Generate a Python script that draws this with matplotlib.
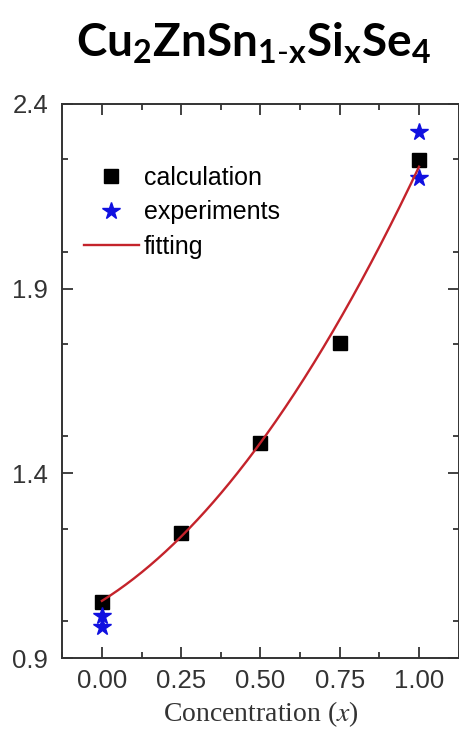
import numpy as np
import matplotlib
matplotlib.use('Agg')
import matplotlib.pyplot as plt
from matplotlib.ticker import MultipleLocator, FormatStrFormatter

plt.rcParams.update({
    'font.family': ['Liberation Sans', 'DejaVu Sans'],
    'mathtext.fontset': 'custom',
    'mathtext.bf': 'Lato:bold',
    'mathtext.rm': 'Lato',
    'mathtext.it': 'Lato:italic',
})

# calculated band gaps vs Si concentration
calc_x = [0.00, 0.25, 0.50, 0.75, 1.00]
calc_y = [1.052, 1.239, 1.483, 1.754, 2.248]

# experimental values (two per end member)
exp_x = [0.00, 0.00, 1.00, 1.00]
exp_y = [1.015, 0.985, 2.324, 2.199]

# quadratic fitting curve coefficients (highest power first)
fit_coef = [0.638, 0.537, 1.055]

xticks = [0.00, 0.25, 0.50, 0.75, 1.00]
yticks = [0.9, 1.4, 1.9, 2.4]

spine_col = '#333333'

fig = plt.figure(figsize=(4.59, 7.42), dpi=100)
ax = fig.add_axes([0.135, 0.113, 0.865, 0.747])

xs = np.linspace(0, 1, 200)
ax.plot(calc_x, calc_y, 's', color='black', markersize=10, label='calculation', zorder=3)
ax.plot(exp_x, exp_y, '*', color='#1010e0', markersize=13, label='experiments', zorder=4)
ax.plot(xs, np.polyval(fit_coef, xs), '-', color='#c4232b', linewidth=1.7, label='fitting', zorder=5)

ax.set_xlim(-0.126, 1.126)
ax.set_ylim(0.9, 2.4)
ax.set_xticks(xticks)
ax.set_yticks(yticks)
ax.xaxis.set_major_formatter(FormatStrFormatter('%.2f'))
ax.yaxis.set_major_formatter(FormatStrFormatter('%.1f'))
ax.xaxis.set_minor_locator(MultipleLocator(0.125))
ax.yaxis.set_minor_locator(MultipleLocator(0.25))
ax.tick_params(which='both', direction='in', top=True, right=True, color=spine_col, width=1.3)
ax.tick_params(which='major', length=8)
ax.tick_params(which='minor', length=4.5)
ax.tick_params(axis='x', labelsize=18.5, pad=8, labelcolor='#333333')
ax.tick_params(axis='y', labelsize=18.5, pad=10, labelcolor='#333333')
for s in ax.spines.values():
    s.set_color(spine_col)
    s.set_linewidth(1.4)

ax.set_xlabel(r'Concentration ($x$)', fontsize=20, family=['Liberation Serif'],
              math_fontfamily='stix', color='#333333', labelpad=4)

ax.legend(loc='upper left', bbox_to_anchor=(0.055, 0.888), frameon=False, fontsize=18,
          numpoints=1, handlelength=2.2, handletextpad=0.2, labelspacing=0.42,
          borderaxespad=0, borderpad=0)

fig.text(0.553, 0.94, r'$\mathbf{Cu_{2}ZnSn_{1\text{-}x}Si_{x}Se_{4}}$',
         fontsize=33, ha='center', va='center', math_fontfamily='custom')

fig.savefig('out.png', dpi=100)
